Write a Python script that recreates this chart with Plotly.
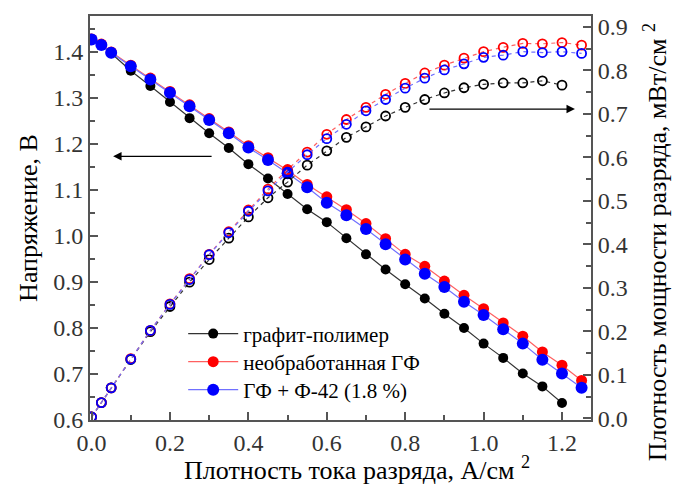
import plotly.graph_objects as go

# Current density, A/cm^2
current_black = [0, 0.025, 0.05, 0.1, 0.15, 0.2, 0.25, 0.3, 0.35, 0.4, 0.45, 0.5, 0.55, 0.6,
                 0.65, 0.7, 0.75, 0.8, 0.85, 0.9, 0.95, 1.0, 1.05, 1.1, 1.15, 1.2]
current_color = current_black + [1.25]

# Voltage, V
volt_graphite = [1.427, 1.415, 1.397, 1.359, 1.326, 1.291, 1.256, 1.223, 1.191, 1.156, 1.125,
                 1.091, 1.058, 1.030, 0.995, 0.960, 0.927, 0.895, 0.864, 0.831, 0.800, 0.766,
                 0.735, 0.701, 0.673, 0.637]
volt_untreated = [1.428, 1.417, 1.400, 1.371, 1.343, 1.314, 1.285, 1.255, 1.226, 1.196, 1.170,
                  1.143, 1.112, 1.085, 1.057, 1.027, 0.994, 0.960, 0.934, 0.902, 0.871, 0.842,
                  0.811, 0.782, 0.748, 0.719, 0.686]
volt_f42 = [1.427, 1.415, 1.398, 1.369, 1.340, 1.311, 1.282, 1.252, 1.223, 1.192, 1.165,
            1.136, 1.106, 1.072, 1.045, 1.015, 0.982, 0.949, 0.918, 0.889, 0.857, 0.828,
            0.797, 0.766, 0.731, 0.701, 0.670]

# Power density, mW/cm^2
pow_graphite = [0.003, 0.036, 0.070, 0.135, 0.199, 0.257, 0.313, 0.365, 0.414, 0.463, 0.507,
                0.543, 0.582, 0.615, 0.646, 0.670, 0.695, 0.715, 0.733, 0.748, 0.760, 0.768,
                0.771, 0.771, 0.776, 0.766]
pow_untreated = [0.003, 0.036, 0.070, 0.137, 0.202, 0.263, 0.321, 0.377, 0.429, 0.479, 0.527,
                 0.572, 0.612, 0.653, 0.687, 0.715, 0.745, 0.770, 0.794, 0.812, 0.828, 0.843,
                 0.853, 0.862, 0.861, 0.864, 0.858]
pow_f42 = [0.003, 0.036, 0.070, 0.136, 0.202, 0.262, 0.319, 0.376, 0.427, 0.476, 0.523,
           0.566, 0.606, 0.643, 0.676, 0.707, 0.733, 0.759, 0.782, 0.801, 0.815, 0.830,
           0.835, 0.843, 0.841, 0.843, 0.839]

names = ["графит-полимер", "необработанная ГФ", "ГФ + Ф-42 (1.8 %)"]
colors = ["#000000", "#ff0000", "#0000ff"]
line_colors = ["#333333", "#ff6060", "#7070ff"]

x_title = "Плотность тока разряда, А/см <sup>2</sup>"
y_title = "Напряжение, В"
y2_title = "Плотность мощности разряда, мВт/см <sup>2</sup>"

FONT = "Liberation Serif, Times New Roman, DejaVu Serif, serif"

fig = go.Figure()

volts = [volt_graphite, volt_untreated, volt_f42]
pows = [pow_graphite, pow_untreated, pow_f42]
xs = [current_black, current_color, current_color]
msize = [10, 11, 12]
legend_ids = ["legend", "legend2", "legend3"]

for i in range(3):
    fig.add_trace(go.Scatter(
        x=xs[i], y=volts[i], mode="lines+markers", name=names[i],
        line=dict(color=line_colors[i], width=1.2),
        marker=dict(color=colors[i], size=msize[i], symbol="circle"),
        yaxis="y", legend=legend_ids[i]))

for i in range(3):
    fig.add_trace(go.Scatter(
        x=xs[i], y=pows[i], mode="lines+markers", showlegend=False,
        line=dict(color=line_colors[i], width=1.2, dash="4px,4px"),
        marker=dict(color=colors[i], size=9, symbol="circle-open",
                    line=dict(color=colors[i], width=1.8)),
        yaxis="y2"))

axis_common = dict(
    showline=True, linecolor="#555555", linewidth=2,
    ticks="inside", ticklen=8, tickwidth=1.5, tickcolor="#555555",
    showgrid=False, zeroline=False,
    tickfont=dict(family=FONT, size=24, color="#333333"),
)


def legend_at(yc):
    return dict(x=0.186, y=yc, xanchor="left", yanchor="middle",
                bgcolor="rgba(0,0,0,0)", borderwidth=0,
                font=dict(family=FONT, size=21, color="#000000"), itemwidth=50)


fig.update_layout(
    width=673, height=492,
    margin=dict(l=90, r=82, t=16, b=72),
    paper_bgcolor="white", plot_bgcolor="white",
    font=dict(family=FONT, color="#000000"),
    xaxis=dict(
        range=[-0.004, 1.274], tickvals=[0, 0.2, 0.4, 0.6, 0.8, 1.0, 1.2],
        ticktext=["0.0", "0.2", "0.4", "0.6", "0.8", "1.0", "1.2"],
        minor=dict(ticks="inside", ticklen=5, tickcolor="#555555", dtick=0.1, tick0=0),
        mirror=True,
        **axis_common),
    yaxis=dict(
        range=[0.6, 1.478], dtick=0.1, tick0=0.6, tickformat=".1f",
        minor=dict(ticks="inside", ticklen=5, tickcolor="#555555", dtick=0.05),
        **axis_common),
    yaxis2=dict(
        range=[-0.004, 0.925], dtick=0.1, tick0=0, tickformat=".1f",
        overlaying="y", side="right",
        minor=dict(ticks="inside", ticklen=5, tickcolor="#555555", dtick=0.05),
        **axis_common),
    legend=legend_at(0.213),
    legend2=legend_at(0.1436),
    legend3=legend_at(0.0743),
    showlegend=True,
)

# Axis titles
fig.add_annotation(text=x_title, xref="paper", yref="paper", x=0.533, y=-0.12,
                   xanchor="center", yanchor="middle", showarrow=False,
                   font=dict(family=FONT, size=26, color="#000000"))
fig.add_annotation(text=y_title, xref="paper", yref="paper", x=-0.124, y=0.5,
                   xanchor="center", yanchor="middle", showarrow=False, textangle=-90,
                   font=dict(family=FONT, size=26, color="#000000"))
fig.add_annotation(text=y2_title, xref="paper", yref="paper", x=1.128, y=0.44,
                   xanchor="center", yanchor="middle", showarrow=False, textangle=-90,
                   font=dict(family=FONT, size=26, color="#000000"))

# Arrows indicating axes
fig.add_annotation(x=0.055, y=1.173, ax=0.31, ay=1.173, xref="x", yref="y",
                   axref="x", ayref="y", text="", showarrow=True,
                   arrowhead=2, arrowsize=1.3, arrowwidth=1.3, arrowcolor="#000000")
fig.add_annotation(x=1.233, y=0.711, ax=0.858, ay=0.711, xref="x", yref="y2",
                   axref="x", ayref="y2", text="", showarrow=True,
                   arrowhead=2, arrowsize=1.3, arrowwidth=1.3, arrowcolor="#000000")

fig.write_html("out.html")
